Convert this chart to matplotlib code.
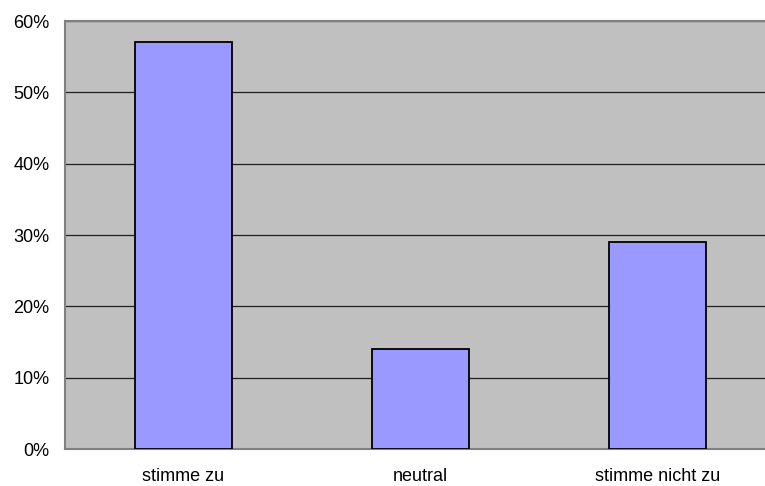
import matplotlib
matplotlib.use('Agg')
import matplotlib.pyplot as plt
from matplotlib.ticker import PercentFormatter

kategorien = ["stimme zu", "neutral", "stimme nicht zu"]
anteile = [0.57, 0.14, 0.29]
y_ticks = [0, 0.1, 0.2, 0.3, 0.4, 0.5, 0.6]

plt.rcParams['font.family'] = ['Liberation Sans', 'DejaVu Sans']

fig = plt.figure(figsize=(7.65, 4.86), dpi=100)
# Diagrammfläche ragt rechts etwas über den Bildrand hinaus
ax = fig.add_axes([65 / 765, 37 / 486, 711 / 765, 428 / 486])
ax.set_facecolor("#C0C0C0")

x = range(len(kategorien))
ax.bar(x, anteile, width=0.41, color="#9999FF", edgecolor="black", linewidth=1.3, zorder=3)

ax.set_xlim(-0.5, len(kategorien) - 0.5)
ax.set_ylim(0, 0.6)
ax.set_yticks(y_ticks)
ax.yaxis.set_major_formatter(PercentFormatter(1.0, decimals=0))
ax.set_xticks(list(x))
ax.set_xticklabels(kategorien)
ax.tick_params(axis='both', length=0, labelsize=13)
ax.tick_params(axis='x', pad=14)
ax.tick_params(axis='y', pad=11)
ax.grid(axis='y', color="#202020", linewidth=0.9, zorder=1)

for s in ax.spines.values():
    s.set_color("#808080")
    s.set_linewidth(1.5)

plt.savefig("out.png", dpi=100)
plt.close()
